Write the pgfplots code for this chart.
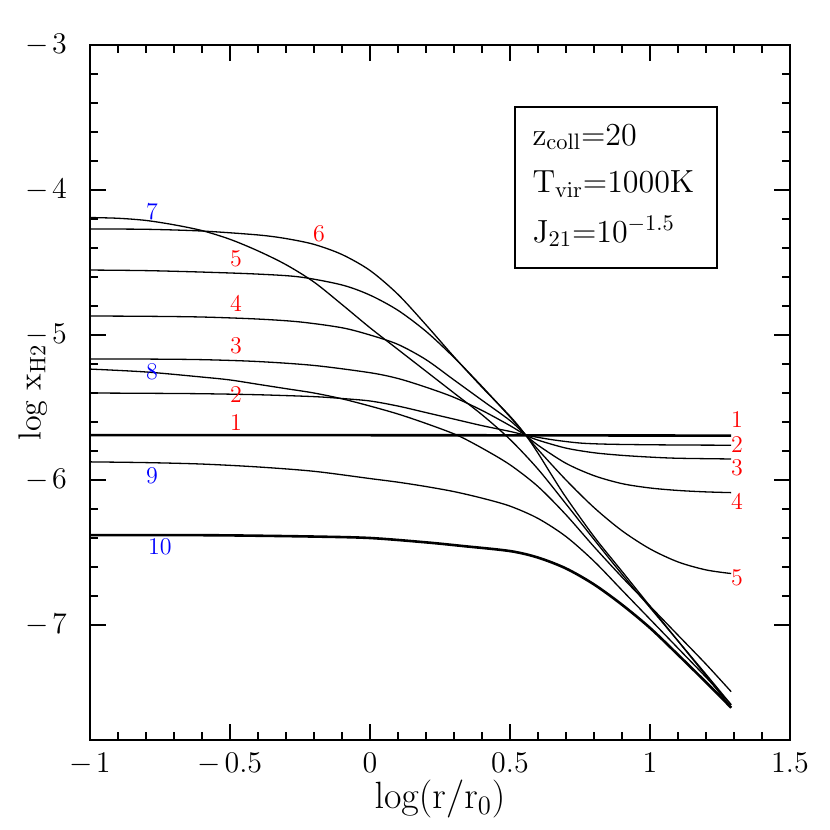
\RequirePackage{fix-cm}
\documentclass[border=0pt]{standalone}
\usepackage{pgfplots}
\pgfplotsset{compat=1.18}
\definecolor{lred}{rgb}{1,0,0}
\definecolor{lblue}{rgb}{0,0,1}
\newcommand{\mn}{\mathord{-}\mkern2mu}
\begin{document}
\begin{tikzpicture}
\pgfplotsset{cv/.style={black, solid, line width=0.65pt, no markers, smooth, tension=0.5},
             cvt/.style={cv, line width=1.3pt}}
\begin{axis}[name=ax, scale only axis, width=350pt, height=347.5pt,
  xmin=-1, xmax=1.5, ymin=-7.793, ymax=-3,
  xtick={-1,-0.5,0,0.5,1,1.5}, ytick={-7,-6,-5,-4,-3},
  xticklabels={$\mn1$,$\mn0.5$,$0$,$0.5$,$1$,$1.5$},
  yticklabels={$\mn7$,$\mn6$,$\mn5$,$\mn4$,$\mn3$},
  minor x tick num=4, minor y tick num=4,
  tick align=inside, major tick length=8pt, minor tick length=4pt,
  axis line style={line width=0.75pt},
  every tick/.style={line width=0.6pt, black},
  ticklabel style={font=\fontsize{15}{17}\selectfont},
  xticklabel style={yshift=-3pt}, yticklabel style={xshift=-8pt},
  xlabel={$\mathrm{log(r/r_0)}$}, ylabel={$\mathrm{log\ x_{H2}}$},
  xlabel style={font=\fontsize{19}{23}\selectfont, at={(axis description cs:0.5,-0.085)}, anchor=center},
  ylabel style={font=\fontsize{16}{20}\selectfont, at={(axis description cs:-0.082,0.5)}, anchor=center},
]
% curve 1
\addplot[cvt, sharp plot] coordinates {(-1,-5.690) (0,-5.691) (0.6,-5.692) (1.29,-5.694)};
% curve 2
\addplot[cv] coordinates {(-1,-5.400) (-0.8,-5.402) (-0.6,-5.405) (-0.4,-5.412) (-0.2,-5.425) (-0.1,-5.438) (0,-5.455) (0.1,-5.49) (0.2,-5.535) (0.3,-5.58) (0.4,-5.625) (0.5,-5.665) (0.556,-5.69) (0.65,-5.722) (0.75,-5.745) (0.85,-5.753) (1.0,-5.757) (1.15,-5.759) (1.29,-5.760)};
% curve 3
\addplot[cv] coordinates {(-1,-5.165) (-0.8,-5.166) (-0.6,-5.170) (-0.4,-5.183) (-0.2,-5.21) (0,-5.26) (0.1,-5.30) (0.2,-5.36) (0.3,-5.43) (0.4,-5.52) (0.5,-5.625) (0.556,-5.69) (0.6,-5.725) (0.7,-5.78) (0.8,-5.812) (0.9,-5.83) (1.0,-5.842) (1.1,-5.85) (1.29,-5.855)};
% curve 4
\addplot[cv] coordinates {(-1,-4.869) (-0.8,-4.871) (-0.6,-4.876) (-0.4,-4.89) (-0.25,-4.91) (-0.1,-4.95) (0,-5.0) (0.1,-5.065) (0.2,-5.17) (0.3,-5.31) (0.4,-5.45) (0.5,-5.59) (0.556,-5.69) (0.6,-5.76) (0.7,-5.885) (0.8,-5.97) (0.9,-6.025) (1.0,-6.055) (1.1,-6.072) (1.2,-6.082) (1.29,-6.087)};
% curve 5
\addplot[cv] coordinates {(-1,-4.552) (-0.8,-4.556) (-0.6,-4.566) (-0.4,-4.58) (-0.25,-4.60) (-0.1,-4.655) (0,-4.725) (0.1,-4.83) (0.2,-4.975) (0.3,-5.155) (0.4,-5.355) (0.5,-5.565) (0.556,-5.69) (0.6,-5.79) (0.7,-6.00) (0.8,-6.19) (0.9,-6.35) (1.0,-6.475) (1.1,-6.565) (1.2,-6.62) (1.29,-6.645)};
% curve 6
\addplot[cv] coordinates {(-1,-4.269) (-0.8,-4.271) (-0.6,-4.283) (-0.4,-4.31) (-0.3,-4.335) (-0.2,-4.375) (-0.1,-4.445) (0,-4.555) (0.1,-4.72) (0.2,-4.93) (0.3,-5.15) (0.4,-5.36) (0.5,-5.56) (0.556,-5.69) (0.6,-5.815) (0.65,-5.97) (0.7,-6.12) (0.8,-6.39) (0.9,-6.63) (1.0,-6.87) (1.1,-7.11) (1.2,-7.35) (1.29,-7.57)};
% curve 7
\addplot[cv] coordinates {(-1,-4.19) (-0.9,-4.195) (-0.8,-4.21) (-0.7,-4.24) (-0.6,-4.28) (-0.5,-4.34) (-0.4,-4.42) (-0.3,-4.515) (-0.2,-4.635) (-0.1,-4.79) (0,-4.95) (0.1,-5.10) (0.2,-5.25) (0.3,-5.40) (0.4,-5.55) (0.5,-5.72) (0.6,-5.925) (0.7,-6.165) (0.8,-6.41) (0.9,-6.65) (1.0,-6.88) (1.1,-7.11) (1.2,-7.34) (1.29,-7.55)};
% curve 8
\addplot[cv] coordinates {(-1,-5.235) (-0.8,-5.255) (-0.6,-5.29) (-0.5,-5.31) (-0.4,-5.34) (-0.3,-5.37) (-0.2,-5.40) (-0.1,-5.44) (0,-5.49) (0.1,-5.545) (0.2,-5.61) (0.31,-5.69) (0.4,-5.78) (0.5,-5.895) (0.6,-6.045) (0.7,-6.24) (0.8,-6.46) (0.9,-6.67) (1.0,-6.87) (1.1,-7.07) (1.2,-7.27) (1.29,-7.46)};
% curve 9
\addplot[cv] coordinates {(-1,-5.875) (-0.8,-5.88) (-0.6,-5.89) (-0.4,-5.91) (-0.2,-5.94) (0,-5.99) (0.1,-6.015) (0.2,-6.045) (0.3,-6.08) (0.4,-6.125) (0.5,-6.18) (0.6,-6.265) (0.7,-6.39) (0.8,-6.56) (0.9,-6.76) (1.0,-6.96) (1.1,-7.16) (1.2,-7.36) (1.29,-7.55)};
% curve 10
\addplot[cvt] coordinates {(-1,-6.38) (-0.7,-6.38) (-0.5,-6.382) (-0.2,-6.39) (0,-6.40) (0.2,-6.43) (0.33,-6.455) (0.5,-6.49) (0.6,-6.535) (0.7,-6.61) (0.8,-6.72) (0.9,-6.86) (1.0,-7.02) (1.1,-7.205) (1.2,-7.395) (1.29,-7.57)};

\begin{scope}[every node/.style={font=\fontsize{12}{14}\selectfont, inner sep=0pt}]
\node[text=lblue] at (axis cs:-0.779,-4.15) {7};
\node[text=lred] at (axis cs:-0.182,-4.30) {6};
\node[text=lred] at (axis cs:-0.479,-4.476) {5};
\node[text=lred] at (axis cs:-0.479,-4.78) {4};
\node[text=lred] at (axis cs:-0.479,-5.076) {3};
\node[text=lblue] at (axis cs:-0.779,-5.255) {8};
\node[text=lred] at (axis cs:-0.479,-5.41) {2};
\node[text=lred] at (axis cs:-0.479,-5.605) {1};
\node[text=lblue] at (axis cs:-0.779,-5.972) {9};
\node[text=lblue] at (axis cs:-0.75,-6.46) {10};
\node[text=lred] at (axis cs:1.311,-5.586) {1};
\node[text=lred] at (axis cs:1.311,-5.752) {2};
\node[text=lred] at (axis cs:1.311,-5.917) {3};
\node[text=lred] at (axis cs:1.311,-6.145) {4};
\node[text=lred] at (axis cs:1.311,-6.676) {5};
\end{scope}

\draw[line width=0.6pt] (axis cs:0.518,-3.428) rectangle (axis cs:1.239,-4.538);
\begin{scope}[every node/.style={font=\fontsize{16}{18}\selectfont, anchor=base west, inner sep=0pt}]
\node at (axis cs:0.579,-3.69) {$\mathrm{z_{coll}{=}20}$};
\node at (axis cs:0.579,-4.02) {$\mathrm{T_{vir}{=}1000K}$};
\node at (axis cs:0.579,-4.36) {$\mathrm{J_{21}{=}10^{-1.5}}$};
\end{scope}
\end{axis}
\pgfresetboundingbox
\path[use as bounding box] ([shift={(-45pt,-45pt)}]ax.south west) rectangle ([shift={(20pt,22.5pt)}]ax.north east);
\end{tikzpicture}
\end{document}
